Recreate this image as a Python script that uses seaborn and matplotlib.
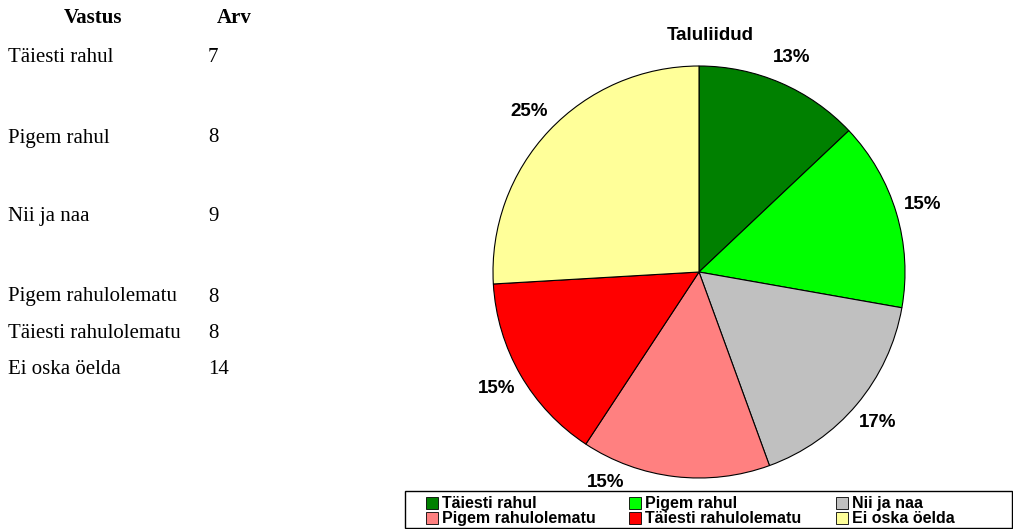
import matplotlib
matplotlib.use("Agg")
import numpy as np
import matplotlib.pyplot as plt
import seaborn as sns
from matplotlib.patches import Patch, Rectangle

# Data
vastused = ["Täiesti rahul", "Pigem rahul", "Nii ja naa",
            "Pigem rahulolematu", "Täiesti rahulolematu", "Ei oska öelda"]
arv = [7, 8, 9, 8, 8, 14]
pct_labels = ["13%", "15%", "17%", "15%", "15%", "25%"]
colors = ["#008000", "#00FF00", "#C0C0C0", "#FF8080", "#FF0000", "#FFFF99"]

sns.set_theme(style="white")
plt.rcParams["text.color"] = "black"
W, H = 1013, 529
fig = plt.figure(figsize=(W / 100, H / 100), dpi=100)
fig.patch.set_facecolor("white")


def fx(px):
    return px / W


def fy(py):
    return 1 - py / H


# Left table
serif = "Liberation Serif"
fig.text(fx(93), fy(18), "Vastus", family=serif, fontsize=15, fontweight="bold",
         ha="center", va="center", color="black")
fig.text(fx(234), fy(18), "Arv", family=serif, fontsize=15, fontweight="bold",
         ha="center", va="center", color="black")
row_y = [58, 138, 217, 297, 333, 369]
for name, n, y in zip(vastused, arv, row_y):
    fig.text(fx(8), fy(y), name, family=serif, fontsize=15, ha="left",
             va="center", color="black")
    fig.text(fx(208), fy(y), str(n), family=serif, fontsize=15, ha="left",
             va="center", color="black")

# Pie
cx, cy, r = 699, 272, 206
ax = fig.add_axes([fx(cx - r), fy(cy + r), 2 * r / W, 2 * r / H])
wedges, texts = ax.pie(
    arv, colors=colors, startangle=90, counterclock=False, labels=pct_labels,
    labeldistance=1.135,
    wedgeprops=dict(edgecolor="black", linewidth=0.8),
    textprops=dict(family="Liberation Sans", fontsize=13.5, fontweight="bold",
                   color="black"),
)
for t in texts:
    t.set_ha("center")
    t.set_va("center")
    t.set_clip_on(False)
# bottom label is nudged round the rim so it stays above the legend
ang = np.deg2rad(90 - 204)
texts[3].set_position((1.12 * np.cos(ang), 1.12 * np.sin(ang)))
ax.set_xlim(-1, 1)
ax.set_ylim(-1, 1)
ax.set_aspect("equal")
ax.axis("off")

fig.text(fx(710), fy(36), "Taluliidud", family="Liberation Sans", fontsize=13.5,
         fontweight="bold", ha="center", va="center", color="black")

# Legend
handles = [Patch(facecolor=c, edgecolor="black", linewidth=0.6, label=l)
           for c, l in zip(colors, vastused)]
order = [0, 3, 1, 4, 2, 5]
fig.patches.append(Rectangle((fx(405), fy(528)), 607 / W, 37 / H,
                             transform=fig.transFigure, facecolor="white",
                             edgecolor="black", linewidth=1.0, zorder=0))
leg = fig.legend(
    [handles[i] for i in order], [vastused[i] for i in order],
    ncol=3, loc="lower left",
    bbox_to_anchor=(fx(424), fy(528), 532 / W, 37 / H), mode="expand",
    prop=dict(family="Liberation Sans", size=11.5, weight="bold"),
    frameon=False, borderpad=0.1, handlelength=0.75,
    handleheight=0.75, handletextpad=0.25, labelspacing=0.0, borderaxespad=0,
    labelcolor="black",
)

fig.savefig("out.png", dpi=100)
